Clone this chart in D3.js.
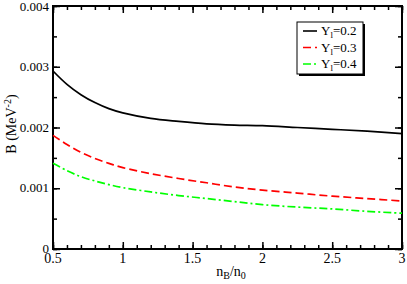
<!DOCTYPE html>
<html>
<head>
<meta charset="utf-8">
<script src="https://cdn.jsdelivr.net/npm/d3@7"></script>
<style>
  body { margin: 0; background: #fff; }
</style>
</head>
<body>
<div id="chart"></div>
<script>
// data, B in units of 1e-3 MeV^-2
var nB = [0.5, 0.6, 0.7, 0.8, 0.9, 1.0, 1.2, 1.4, 1.6, 1.8, 2.0, 2.25, 2.5, 2.75, 3.0];
var bY02 = [2.93, 2.71, 2.54, 2.41, 2.31, 2.24, 2.15, 2.10, 2.06, 2.04, 2.03, 2.00, 1.97, 1.94, 1.90];
var bY03 = [1.87, 1.72, 1.59, 1.49, 1.41, 1.34, 1.24, 1.16, 1.09, 1.02, 0.97, 0.92, 0.87, 0.83, 0.79];
var bY04 = [1.41, 1.29, 1.19, 1.12, 1.06, 1.01, 0.94, 0.88, 0.83, 0.78, 0.73, 0.69, 0.66, 0.62, 0.59];
var seriesNames = ["0.2", "0.3", "0.4"];
var xTicks = [0.5, 1, 1.5, 2, 2.5, 3];
var yTicks = [0, 0.001, 0.002, 0.003, 0.004];

var W = 407, H = 284;
var margin = {left: 53, right: 5, top: 6, bottom: 35};
var FONT = "'Liberation Serif'";

var svg = d3.select("#chart").append("svg")
    .attr("width", W).attr("height", H);

var x = d3.scaleLinear().domain([0.5, 3]).range([margin.left, W - margin.right]);
var y = d3.scaleLinear().domain([0, 0.004]).range([H - margin.bottom, margin.top]);

var xMinor = d3.range(5, 31).map(function(d){ return d / 10; });
var yMinor = d3.range(0, 9).map(function(d){ return d * 0.0005; });

// ticks (inward, on all four sides)
function tickSet(axisGen, vals, size, g) {
	g.call(axisGen.tickValues(vals).tickSize(size).tickFormat(""));
	g.select(".domain").remove();
	g.selectAll("text").remove();
	g.selectAll("line").attr("stroke", "#000").attr("stroke-width", 1.5);
}
var plot = svg.append("g");
var sides = [
	[function(){ return d3.axisBottom(x); }, "translate(0," + (H - margin.bottom) + ")", xTicks, xMinor],
	[function(){ return d3.axisTop(x); }, "translate(0," + margin.top + ")", xTicks, xMinor],
	[function(){ return d3.axisLeft(y); }, "translate(" + margin.left + ",0)", yTicks, yMinor],
	[function(){ return d3.axisRight(y); }, "translate(" + (W - margin.right) + ",0)", yTicks, yMinor]
];
sides.forEach(function(s){
	tickSet(s[0](), s[3], -4, plot.append("g").attr("transform", s[1]));
	tickSet(s[0](), s[2], -7, plot.append("g").attr("transform", s[1]));
});

// tick labels
svg.append("g").selectAll("text").data(xTicks).enter().append("text")
	.attr("x", function(d){ return x(d); })
	.attr("y", H - margin.bottom + 14)
	.attr("text-anchor", "middle")
	.attr("font-family", FONT)
	.attr("font-size", 14)
	.text(function(d){ return d; });

svg.append("g").selectAll("text").data(yTicks).enter().append("text")
	.attr("x", margin.left - 4)
	.attr("y", function(d){ return Math.max(y(d) + 4, 11); })
	.attr("text-anchor", "end")
	.attr("font-family", FONT)
	.attr("font-size", 13)
	.text(function(d){ return d === 0 ? "0" : d3.format(".3f")(d); });

// frame
svg.append("rect")
	.attr("x", margin.left).attr("y", margin.top)
	.attr("width", W - margin.right - margin.left)
	.attr("height", H - margin.bottom - margin.top)
	.attr("fill", "none").attr("stroke", "#000").attr("stroke-width", 2);

// curves
var line = d3.line()
	.x(function(d){ return x(d[0]); })
	.y(function(d){ return y(d[1] * 0.001); })
	.curve(d3.curveCatmullRom.alpha(0.5));

var styles = [
	{color: "#000", dash: null},
	{color: "#ff0000", dash: "8,4"},
	{color: "#00ff00", dash: "8,3,2,3"}
];
var allSeries = [bY02, bY03, bY04];

allSeries.forEach(function(vals, i){
	svg.append("path")
		.datum(nB.map(function(n, j){ return [n, vals[j]]; }))
		.attr("d", line)
		.attr("fill", "none")
		.attr("stroke", styles[i].color)
		.attr("stroke-width", 1.7)
		.attr("stroke-dasharray", styles[i].dash);
});

// legend
var lg = svg.append("g");
lg.append("rect").attr("x", 299).attr("y", 24).attr("width", 66).attr("height", 52).attr("fill", "#000");
lg.append("rect").attr("x", 297).attr("y", 22).attr("width", 66).attr("height", 52)
	.attr("fill", "#fff").attr("stroke", "#000").attr("stroke-width", 1);

seriesNames.forEach(function(name, i){
	var ly = 31 + i * 16.5;
	lg.append("line")
		.attr("x1", 303).attr("x2", 317).attr("y1", ly).attr("y2", ly)
		.attr("stroke", styles[i].color).attr("stroke-width", 1.6)
		.attr("stroke-dasharray", styles[i].dash);
	var t = lg.append("text").attr("x", 321).attr("y", ly + 4)
		.attr("font-family", FONT).attr("font-size", 13);
	t.append("tspan").text("Y");
	t.append("tspan").attr("font-size", 9).attr("dy", 3).text("l");
	t.append("tspan").attr("dy", -3).text("=" + name);
});

// axis titles
var xt = svg.append("text").attr("x", 231).attr("y", 276).attr("text-anchor", "middle")
	.attr("font-family", FONT).attr("font-size", 14);
xt.append("tspan").text("n");
xt.append("tspan").attr("font-size", 10).attr("dy", 3).text("B");
xt.append("tspan").attr("dy", -3).text("/n");
xt.append("tspan").attr("font-size", 10).attr("dy", 3).text("0");

var yt = svg.append("text")
	.attr("transform", "translate(16,124) rotate(-90)")
	.attr("text-anchor", "middle")
	.attr("font-family", FONT).attr("font-size", 14);
yt.append("tspan").text("B (MeV");
yt.append("tspan").attr("font-size", 10).attr("dy", -5).text("-2");
yt.append("tspan").attr("dy", 5).text(")");
</script>
</body>
</html>
